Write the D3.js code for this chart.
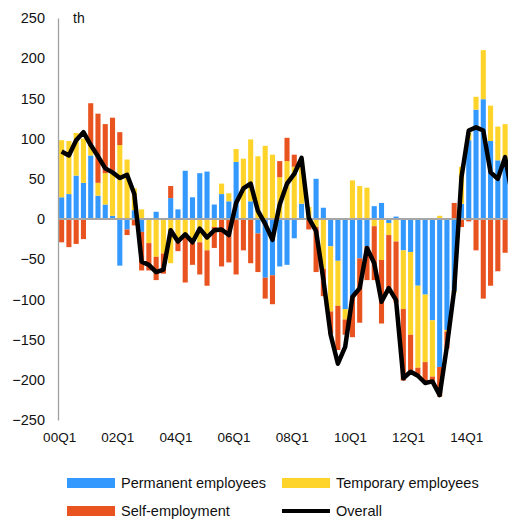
<!DOCTYPE html>
<html>
<head>
<meta charset="utf-8">
<script src="https://cdn.jsdelivr.net/npm/d3@7"></script>
<style>
  html, body { margin: 0; padding: 0; background: #ffffff; }
  svg { display: block; font-family: "Liberation Sans", Arial, sans-serif; }
</style>
</head>
<body>
<svg id="chart" width="508" height="519"></svg>
<script>
// Quarterly change in employment (thousands), by type of employment
const quarters = [
  "00Q1","00Q2","00Q3","00Q4","01Q1","01Q2","01Q3","01Q4",
  "02Q1","02Q2","02Q3","02Q4","03Q1","03Q2","03Q3","03Q4",
  "04Q1","04Q2","04Q3","04Q4","05Q1","05Q2","05Q3","05Q4",
  "06Q1","06Q2","06Q3","06Q4","07Q1","07Q2","07Q3","07Q4",
  "08Q1","08Q2","08Q3","08Q4","09Q1","09Q2","09Q3","09Q4",
  "10Q1","10Q2","10Q3","10Q4","11Q1","11Q2","11Q3","11Q4",
  "12Q1","12Q2","12Q3","12Q4","13Q1","13Q2","13Q3","13Q4",
  "14Q1","14Q2","14Q3","14Q4","15Q1","15Q2","15Q3"
];

const permanent = [
  27, 31, 54, 45, 79, 29, 18, 4,
  -58, -13, 11, -16, 0, 9, 0, 26,
  12, 60, 27, 57, 59, 18, 31, 22,
  71, 0, 22, -18, -73, -70, -59, -57,
  -24, 19, 0, 50, 14, -34, -52, -112,
  -97, -49, -34, 16, 20, -5, 3, -39,
  -41, -83, -94, -126, -184, -138, -90, 19,
  98, 136, 149, 97, 73, 71, 45
];

const temporary = [
  71, 66, 53, 55, 12, 16, 39, 56,
  92, 74, 27, 12, -30, -47, -43, -55,
  -29, -22, -30, -29, -39, -10, 13, 10,
  16, 75, 77, 78, 91, 80, 52, 72,
  65, 56, 15, -10, -62, -81, -56, -13,
  48, 41, 39, -9, -51, -15, -28, -73,
  -103, -102, -84, -70, 4, -2, -2, 46,
  10, 16, 61, 44, 42, 47, 20
];

const selfEmployment = [
  -29, -35, -31, -25, 53, 86, 61, 66,
  16, -7, -8, -48, -34, -29, -25, 15,
  -11, -57, -27, -40, -44, -26, -59, -54,
  -69, -39, -55, -48, -26, -36, 20, 29,
  15, 0, -13, -56, -34, -28, -55, -19,
  -50, -80, -42, -67, -79, -66, -76, -89,
  -46, -9, -24, -5, -37, -21, 20, -10,
  -3, -39, -99, -83, -65, -42, -35
];

const overall = [
  84, 79, 98, 108, 92, 78, 63, 58,
  51, 55, 31, -53, -57, -66, -63, -14,
  -28, -19, -29, -12, -23, -14, -13, -20,
  20, 38, 44, 10, -6, -26, 18, 44,
  56, 76, 1, -15, -75, -144, -180, -159,
  -97, -86, -36, -55, -103, -86, -101, -198,
  -190, -195, -204, -202, -219, -158, -88, 52,
  110, 114, 110, 58, 50, 77, 28
];

const yTicks = [250, 200, 150, 100, 50, 0, -50, -100, -150, -200, -250];
const xTickLabels = ["00Q1","02Q1","04Q1","06Q1","08Q1","10Q1","12Q1","14Q1"];

const seriesNames = ["Permanent employees", "Temporary employees", "Self-employment"];
const seriesColors = ["#3399ff", "#ffd42a", "#e8531f"];

// Build rows for the diverging stack
const rows = quarters.map((q, i) => ({
  q,
  "Permanent employees": permanent[i],
  "Temporary employees": temporary[i],
  "Self-employment": selfEmployment[i]
}));

const svg = d3.select("#chart");

const step = 7.27;
const left = 58;
const x = d3.scaleBand()
  .domain(quarters)
  .range([left, left + step * quarters.length])
  .paddingInner(0.3)
  .paddingOuter(0.15);

const y = d3.scaleLinear().domain([-250, 250]).range([420, 18]);

const stack = d3.stack()
  .keys(seriesNames)
  .offset(d3.stackOffsetDiverging);
const stacked = stack(rows);

// Stacked columns
svg.append("g")
  .selectAll("g")
  .data(stacked)
  .join("g")
  .attr("fill", (d, i) => seriesColors[i])
  .selectAll("rect")
  .data(d => d)
  .join("rect")
  .attr("x", d => x(d.data.q))
  .attr("width", x.bandwidth())
  .attr("y", d => y(Math.max(d[0], d[1])))
  .attr("height", d => Math.abs(y(d[0]) - y(d[1])));

// Y axis
const yAxis = d3.axisLeft(y)
  .tickValues(yTicks)
  .tickSize(0)
  .tickPadding(13)
  .tickFormat(d3.format("d"));

const gy = svg.append("g")
  .attr("transform", `translate(${left},0)`)
  .call(yAxis);
gy.select(".domain").attr("stroke", "#a0a0a0").attr("stroke-width", 1.3);
gy.selectAll("text")
  .attr("fill", "#111")
  .style("font-size", "14.5px")
  .style("font-family", "'Liberation Sans', Arial, sans-serif");

// Zero line
svg.append("line")
  .attr("x1", left)
  .attr("x2", left + step * quarters.length)
  .attr("y1", y(0))
  .attr("y2", y(0))
  .attr("stroke", "#a6a6a6")
  .attr("stroke-width", 2);

// X axis labels (every second year)
const xAxis = d3.axisBottom(x)
  .tickValues(xTickLabels)
  .tickSize(0)
  .tickPadding(12);
const gx = svg.append("g")
  .attr("transform", `translate(-2,${y(-250)})`)
  .call(xAxis);
gx.select(".domain").remove();
gx.selectAll("text")
  .attr("fill", "#111")
  .style("font-size", "13.5px")
  .style("font-family", "'Liberation Sans', Arial, sans-serif");

// Overall employment line
const line = d3.line()
  .x((d, i) => x(quarters[i]) + x.bandwidth() / 2)
  .y(d => y(d));

svg.append("path")
  .datum(overall)
  .attr("fill", "none")
  .attr("stroke", "#000")
  .attr("stroke-width", 4.5)
  .attr("stroke-linejoin", "round")
  .attr("d", line);

// Unit label
svg.append("text")
  .attr("x", 73)
  .attr("y", 23)
  .attr("fill", "#111")
  .style("font-size", "14px")
  .text("th");

// Legend
const legendItems = [
  { name: "Permanent employees", color: seriesColors[0], type: "rect", x: 67, y: 483 },
  { name: "Temporary employees", color: seriesColors[1], type: "rect", x: 282, y: 483 },
  { name: "Self-employment", color: seriesColors[2], type: "rect", x: 67, y: 511 },
  { name: "Overall", color: "#000", type: "line", x: 282, y: 511 }
];

const lg = svg.append("g");
legendItems.forEach(it => {
  if (it.type === "rect") {
    lg.append("rect")
      .attr("x", it.x)
      .attr("y", it.y - 5)
      .attr("width", 48)
      .attr("height", 10)
      .attr("fill", it.color);
  } else {
    lg.append("line")
      .attr("x1", it.x)
      .attr("x2", it.x + 48)
      .attr("y1", it.y)
      .attr("y2", it.y)
      .attr("stroke", it.color)
      .attr("stroke-width", 4);
  }
  lg.append("text")
    .attr("x", it.x + 54)
    .attr("y", it.y + 5)
    .attr("fill", "#111")
    .style("font-size", "14.5px")
    .text(it.name);
});
</script>
</body>
</html>
